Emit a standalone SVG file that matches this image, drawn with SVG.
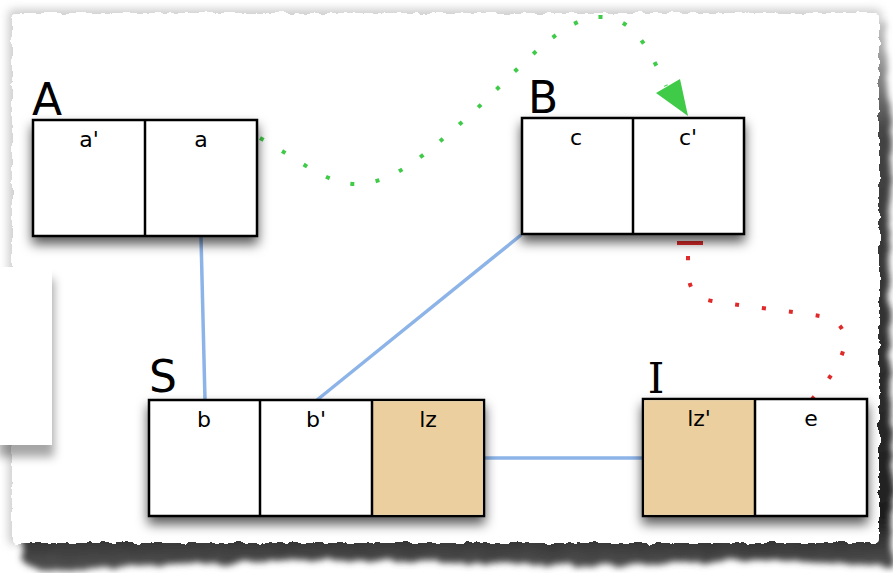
<svg xmlns="http://www.w3.org/2000/svg" width="893" height="573" viewBox="0 0 893 573">
  <defs>
    <style>
      .cell { fill: #ffffff; stroke: #000000; stroke-width: 2.5; }
      .tan { fill: #EBCF9E; }
      .div { stroke: #000000; stroke-width: 2.5; }
      .lbl { font-family: "DejaVu Sans", "Liberation Sans", sans-serif; font-size: 22px; fill: #000000; text-anchor: middle; }
      .title { font-family: "DejaVu Sans", "Liberation Sans", sans-serif; font-size: 44px; fill: #000000; }
      .link { stroke: #8DB4E8; stroke-width: 3.5; fill: none; }
      .green { stroke: #3FCB48; stroke-width: 4; fill: none; stroke-dasharray: 4 21.5; }
      .red { stroke: #E02A2A; stroke-width: 4; fill: none; stroke-dasharray: 4 23; }
    </style>
    <filter id="boxShadow" x="-20%" y="-20%" width="140%" height="170%">
      <feDropShadow dx="0" dy="7" stdDeviation="6" flood-color="#000000" flood-opacity="0.65"/>
    </filter>
    <filter id="torn" x="-5%" y="-5%" width="110%" height="110%">
      <feTurbulence type="fractalNoise" baseFrequency="0.09" numOctaves="3" seed="4" result="noise"/>
      <feDisplacementMap in="SourceGraphic" in2="noise" scale="7" xChannelSelector="R" yChannelSelector="G"/>
    </filter>
    <filter id="tornShadow" x="-5%" y="-5%" width="110%" height="115%">
      <feTurbulence type="fractalNoise" baseFrequency="0.05" numOctaves="3" seed="9" result="noise"/>
      <feDisplacementMap in="SourceGraphic" in2="noise" scale="10" xChannelSelector="R" yChannelSelector="G" result="d"/>
      <feGaussianBlur in="d" stdDeviation="3"/>
    </filter>
    <filter id="soft" x="-10%" y="-10%" width="120%" height="120%">
      <feGaussianBlur stdDeviation="4"/>
    </filter>
    <filter id="panelShadow" x="-30%" y="-20%" width="160%" height="150%">
      <feDropShadow dx="2" dy="12" stdDeviation="5" flood-color="#000000" flood-opacity="0.35"/>
    </filter>
    <linearGradient id="edgeFade" x1="0" y1="0" x2="0" y2="1">
      <stop offset="0" stop-color="#c4c4c4"/>
      <stop offset="0.2" stop-color="#444444"/>
      <stop offset="0.9" stop-color="#1e1e1e"/>
      <stop offset="1" stop-color="#555555"/>
    </linearGradient>
  </defs>

  <!-- page backdrop -->
  <rect x="0" y="0" width="893" height="573" fill="#ffffff"/>

  <!-- torn paper sheet: soft halo, dark torn shadow, then the sheet -->
  <rect x="8" y="9" width="874" height="536" rx="6" fill="#cfcfcf" filter="url(#soft)"/>
  <path d="M24,40 L884,22 L890,120 L889,300 L892,450 L893,566 L760,560 L600,566 L450,562 L300,560 L150,566 L40,572 L22,560 Z"
        fill="url(#edgeFade)" filter="url(#tornShadow)"/>
  <rect x="12" y="13" width="867" height="530" rx="4" fill="#ffffff" filter="url(#torn)"/>

  <!-- window fragment at the left -->
  <g id="side-panel" filter="url(#panelShadow)">
    <rect x="-4" y="267" width="56" height="178" fill="#ffffff"/>
  </g>

  <!-- connectors -->
  <g id="connectors">
    <line class="link" x1="201" y1="237" x2="205" y2="400"/>
    <line class="link" x1="521" y1="235" x2="317" y2="400"/>
    <line class="link" x1="484" y1="458" x2="643" y2="458"/>
    <path class="green" d="M260,138 C300,160 328,186 359,184 C395,182 425,155 471,114 C515,74 560,17 600,17 C635,17 650,52 666,86"/>
    <polygon points="688,116 656,93 680,79" fill="#3FCB48"/>
    <line x1="677" y1="243" x2="703" y2="243" stroke="#E02A2A" stroke-width="4"/>
    <path class="red" d="M688,256 C688,278 686,296 712,301 C740,306 790,311 820,316 C856,322 852,356 812,399"/>
  </g>

  <!-- node A -->
  <g id="node-A">
    <text class="title" x="32" y="115">A</text>
    <g filter="url(#boxShadow)">
      <rect class="cell" x="33" y="120" width="224" height="116"/>
    </g>
    <line class="div" x1="145" y1="120" x2="145" y2="236"/>
    <text class="lbl" x="89" y="147">a'</text>
    <text class="lbl" x="201" y="147">a</text>
  </g>

  <!-- node B -->
  <g id="node-B">
    <text class="title" x="528" y="113">B</text>
    <g filter="url(#boxShadow)">
      <rect class="cell" x="522" y="118" width="222" height="116"/>
    </g>
    <line class="div" x1="633" y1="118" x2="633" y2="234"/>
    <text class="lbl" x="576" y="145">c</text>
    <text class="lbl" x="688" y="145">c'</text>
  </g>

  <!-- node S -->
  <g id="node-S">
    <text class="title" x="149" y="392">S</text>
    <g filter="url(#boxShadow)">
      <rect class="cell" x="149" y="400" width="335" height="116"/>
    </g>
    <rect class="tan" x="372" y="401.25" width="110.75" height="113.5"/>
    <line class="div" x1="260" y1="400" x2="260" y2="516"/>
    <line class="div" x1="372" y1="400" x2="372" y2="516"/>
    <text class="lbl" x="204" y="427">b</text>
    <text class="lbl" x="316" y="427">b'</text>
    <text class="lbl" x="428" y="427">lz</text>
  </g>

  <!-- node I -->
  <g id="node-I">
    <text class="title" x="656" y="393" text-anchor="middle" style="font-family: 'DejaVu Serif', 'Liberation Serif', serif; font-size: 42px;">I</text>
    <g filter="url(#boxShadow)">
      <rect class="cell" x="643" y="399" width="224" height="117"/>
    </g>
    <rect class="tan" x="644.25" y="400.25" width="110.75" height="114.5"/>
    <line class="div" x1="755" y1="399" x2="755" y2="516"/>
    <text class="lbl" x="699" y="426">lz'</text>
    <text class="lbl" x="811" y="426">e</text>
  </g>
</svg>
